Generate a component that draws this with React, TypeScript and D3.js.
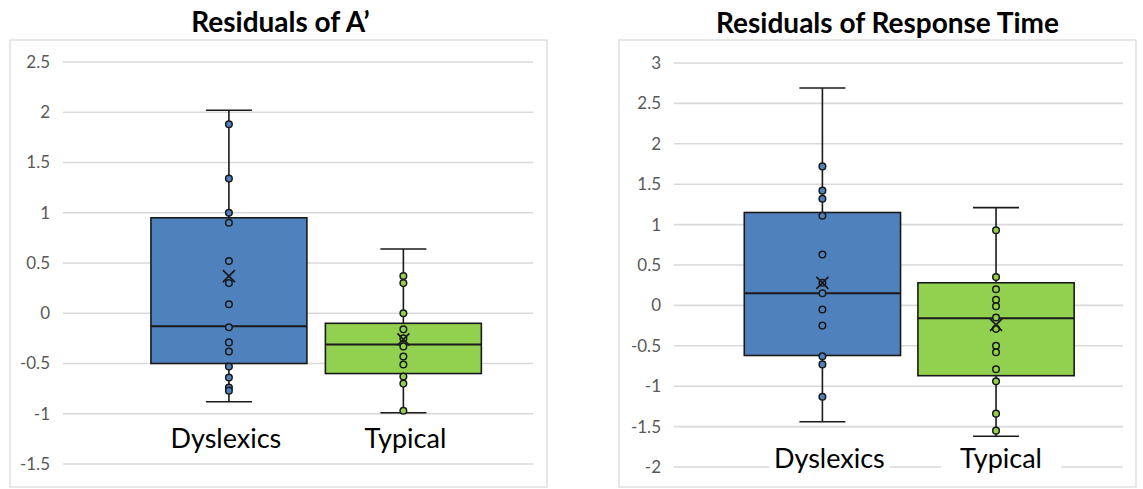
import * as d3 from 'd3';

const categories = ['Dyslexics', 'Typical'];
const boxColors = ['#4f81bd', '#92d050'];

// Residuals of A'
const aTicks = [2.5, 2, 1.5, 1, 0.5, 0, -0.5, -1, -1.5];
const aDysPoints = [1.88, 1.34, 1.0, 0.9, 0.52, 0.3, 0.09, -0.14, -0.29, -0.38, -0.53, -0.64, -0.74, -0.77];
const aTypPoints = [0.37, 0.3, 0.0, -0.16, -0.25, -0.33, -0.43, -0.51, -0.63, -0.7, -0.97];
const aLow = [-0.88, -0.99];
const aQ1 = [-0.5, -0.6];
const aMedian = [-0.13, -0.31];
const aQ3 = [0.95, -0.1];
const aHigh = [2.02, 0.64];
const aMean = [0.37, -0.26];

// Residuals of Response Time
const rtTicks = [3, 2.5, 2, 1.5, 1, 0.5, 0, -0.5, -1, -1.5, -2];
const rtDysPoints = [1.72, 1.42, 1.32, 1.11, 0.63, 0.28, 0.15, -0.05, -0.25, -0.63, -0.73, -1.13];
const rtTypPoints = [0.93, 0.35, 0.2, 0.07, -0.01, -0.15, -0.29, -0.5, -0.58, -0.79, -0.94, -1.34, -1.55];
const rtLow = [-1.44, -1.62];
const rtQ1 = [-0.62, -0.87];
const rtMedian = [0.15, -0.16];
const rtQ3 = [1.15, 0.28];
const rtHigh = [2.69, 1.21];
const rtMean = [0.28, -0.24];

const font = 'Lato, "Open Sans", sans-serif';
const dark = '#1a1a1a';

const BoxPanel = ({ title, frame, plot, ticks, points, low, q1, median, q3, high, mean, band, labelY, labelBg }) => {
	const y = d3.scaleLinear().domain(d3.extent(ticks)).range([plot.bottom, plot.top]);
	const x = d3
		.scaleBand()
		.domain(categories)
		.range([plot.left, plot.right])
		.paddingInner(band.inner)
		.paddingOuter(band.outer)
		.align(band.align);
	const bw = x.bandwidth();
	const cap = 23;

	return (
		<g>
			<rect x={frame.x} y={frame.y} width={frame.w} height={frame.h} fill="#fff" stroke="#d9d9d9" strokeWidth={1.2} />
			<text x={frame.x + frame.w / 2 + title.dx} y={title.y} textAnchor="middle" fontFamily={font} fontWeight={700} fontSize={28} fill="#000">
				{title.text}
			</text>
			{ticks.map(t => (
				<g key={t}>
					<line x1={plot.left} x2={plot.right} y1={y(t)} y2={y(t)} stroke="#d9d9d9" strokeWidth={1.6} />
					<text x={plot.left - 13} y={y(t)} dy="0.35em" textAnchor="end" fontFamily={font} fontSize={17} fill="#595959">
						{t}
					</text>
				</g>
			))}
			{categories.map((c, i) => {
				const cx = x(c) + bw / 2;
				return (
					<g key={c}>
						<line x1={cx} x2={cx} y1={y(high[i])} y2={y(low[i])} stroke={dark} strokeWidth={1.6} />
						<line x1={cx - cap} x2={cx + cap} y1={y(high[i])} y2={y(high[i])} stroke={dark} strokeWidth={1.6} />
						<line x1={cx - cap} x2={cx + cap} y1={y(low[i])} y2={y(low[i])} stroke={dark} strokeWidth={1.6} />
						<rect x={x(c)} y={y(q3[i])} width={bw} height={y(q1[i]) - y(q3[i])} fill={boxColors[i]} stroke={dark} strokeWidth={1.6} />
						<line x1={x(c)} x2={x(c) + bw} y1={y(median[i])} y2={y(median[i])} stroke={dark} strokeWidth={2} />
						{points[i].map((v, j) => (
							<circle key={j} cx={cx} cy={y(v)} r={3.3} fill={boxColors[i]} stroke={dark} strokeWidth={1.5} />
						))}
						<path
							d={`M${cx - 6},${y(mean[i]) - 6}L${cx + 6},${y(mean[i]) + 6}M${cx + 6},${y(mean[i]) - 6}L${cx - 6},${y(mean[i]) + 6}`}
							stroke={dark}
							strokeWidth={1.7}
							fill="none"
						/>
					</g>
				);
			})}
			{categories.map((c, i) => {
				const cx = x(c) + bw / 2 + labelY.dx[i];
				return (
					<g key={'l' + c}>
						{labelBg && <rect x={cx - 60} y={labelY.y - 24} width={120} height={30} fill="#fff" />}
						<text x={cx} y={labelY.y} textAnchor="middle" fontFamily={font} fontSize={27} fill="#000">
							{c}
						</text>
					</g>
				);
			})}
		</g>
	);
};

const App = () => {
	return (
		<svg width={1143} height={489} style={{ position: 'absolute', left: 0, top: 0, background: '#fff' }}>
			<BoxPanel
				title={{ text: 'Residuals of A\u2019', y: 32, dx: 2 }}
				frame={{ x: 10, y: 40, w: 537, h: 447 }}
				plot={{ left: 63, right: 533, top: 62, bottom: 464 }}
				ticks={aTicks}
				points={[aDysPoints, aTypPoints]}
				low={aLow}
				q1={aQ1}
				median={aMedian}
				q3={aQ3}
				high={aHigh}
				mean={aMean}
				band={{ inner: 0.106, outer: 0.4, align: 0.63 }}
				labelY={{ y: 448, dx: [-3, 2] }}
				labelBg={false}
			/>
			<BoxPanel
				title={{ text: 'Residuals of Response Time', y: 33, dx: 10 }}
				frame={{ x: 619, y: 40, w: 517, h: 447 }}
				plot={{ left: 674, right: 1123, top: 63, bottom: 467 }}
				ticks={rtTicks}
				points={[rtDysPoints, rtTypPoints]}
				low={rtLow}
				q1={rtQ1}
				median={rtMedian}
				q3={rtQ3}
				high={rtHigh}
				mean={rtMean}
				band={{ inner: 0.1, outer: 0.343, align: 0.59 }}
				labelY={{ y: 468, dx: [7, 5] }}
				labelBg={true}
			/>
		</svg>
	);
};

export default App;
